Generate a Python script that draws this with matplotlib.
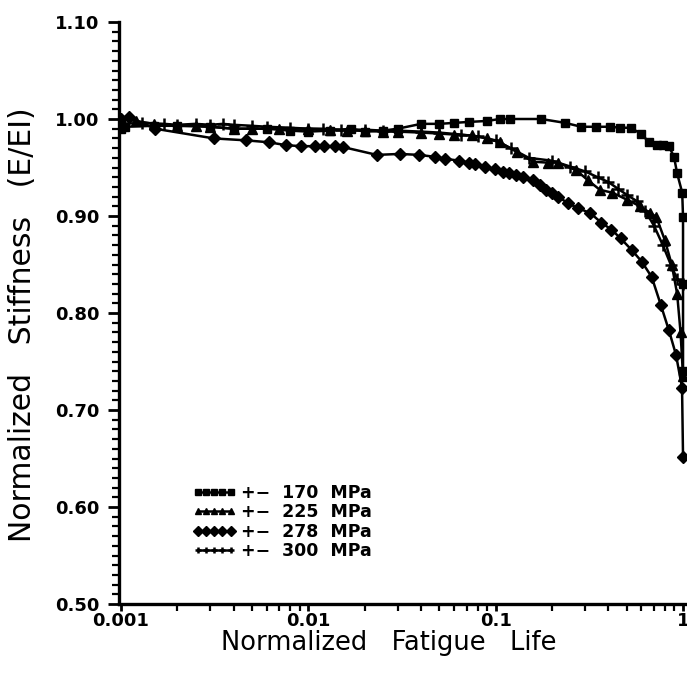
import matplotlib.pyplot as plt
from matplotlib.ticker import FixedLocator, MultipleLocator, FormatStrFormatter
import numpy as np

# stiffness degradation vs normalized fatigue life

life_170 = [0.001, 0.00105, 0.0015, 0.002, 0.003, 0.004, 0.006, 0.008, 0.01, 0.013,
            0.017, 0.02, 0.025, 0.03, 0.04, 0.05, 0.06, 0.072, 0.09, 0.105, 0.119,
            0.175, 0.235, 0.286, 0.345, 0.41, 0.46, 0.525, 0.594, 0.66, 0.724, 0.78,
            0.84, 0.895, 0.93, 0.99, 1.0, 1.0, 1.0]
stiff_170 = [0.99, 0.992, 0.993, 0.993, 0.992, 0.99, 0.99, 0.988, 0.987, 0.988,
             0.99, 0.987, 0.988, 0.99, 0.995, 0.995, 0.996, 0.997, 0.998, 1.0, 1.0,
             1.0, 0.996, 0.992, 0.992, 0.992, 0.991, 0.991, 0.985, 0.976, 0.973, 0.973,
             0.972, 0.961, 0.944, 0.924, 0.899, 0.83, 0.74]

life_225 = [0.001, 0.0012, 0.0015, 0.002, 0.0025, 0.003, 0.004, 0.005, 0.007, 0.01,
            0.013, 0.016, 0.02, 0.025, 0.03, 0.04, 0.05, 0.06, 0.075, 0.09, 0.105,
            0.13, 0.158, 0.19, 0.215, 0.27, 0.31, 0.36, 0.42, 0.5, 0.59, 0.67, 0.72,
            0.8, 0.87, 0.93, 0.97, 1.0]
stiff_225 = [1.0, 0.998, 0.995, 0.993, 0.993, 0.992, 0.99, 0.99, 0.99, 0.99,
             0.989, 0.988, 0.988, 0.987, 0.987, 0.986, 0.985, 0.984, 0.983, 0.98, 0.976,
             0.966, 0.956, 0.955, 0.955, 0.947, 0.937, 0.927, 0.924, 0.917, 0.91, 0.903,
             0.899, 0.875, 0.85, 0.82, 0.78, 0.735]

life_278 = [0.001, 0.0011, 0.00152, 0.00313, 0.00465, 0.00617, 0.00762, 0.00917,
            0.0108, 0.0122, 0.0138, 0.0154, 0.0232, 0.0308, 0.039, 0.0475, 0.0538,
            0.064, 0.072, 0.078, 0.088, 0.099, 0.109, 0.118, 0.128, 0.14, 0.158,
            0.172, 0.186, 0.2, 0.215, 0.244, 0.276, 0.32, 0.367, 0.415, 0.464, 0.532,
            0.602, 0.681, 0.762, 0.841, 0.917, 0.988, 1.0]
stiff_278 = [1.0, 1.002, 0.99, 0.98, 0.978, 0.976, 0.973, 0.972,
             0.972, 0.972, 0.972, 0.971, 0.963, 0.964, 0.963, 0.961, 0.959,
             0.957, 0.955, 0.954, 0.951, 0.948, 0.945, 0.944, 0.942, 0.94, 0.937,
             0.932, 0.927, 0.924, 0.92, 0.913, 0.908, 0.903, 0.893, 0.886, 0.877, 0.865,
             0.853, 0.837, 0.808, 0.782, 0.757, 0.723, 0.652]

life_300 = [0.001, 0.0013, 0.0017, 0.002, 0.0025, 0.003, 0.0035, 0.004, 0.005, 0.006,
            0.008, 0.01, 0.012, 0.015, 0.02, 0.025, 0.03, 0.04, 0.05, 0.065, 0.08,
            0.1, 0.12, 0.15, 0.2, 0.25, 0.3, 0.35, 0.4, 0.45, 0.5, 0.57, 0.63, 0.7,
            0.78, 0.86, 0.93, 1.0]
stiff_300 = [0.995, 0.996, 0.995, 0.994, 0.995, 0.994, 0.995, 0.994, 0.993, 0.992,
             0.991, 0.99, 0.99, 0.989, 0.989, 0.988, 0.988, 0.987, 0.986, 0.984, 0.982,
             0.978, 0.97, 0.96, 0.957, 0.951, 0.946, 0.94, 0.935, 0.928, 0.922, 0.915,
             0.905, 0.89, 0.87, 0.85, 0.835, 0.83]

labels = ['+\u2212  170  MPa', '+\u2212  225  MPa', '+\u2212  278  MPa', '+\u2212  300  MPa']

fig = plt.figure(figsize=(6.87, 6.77), dpi=100)
ax = fig.add_axes([0.1732, 0.1078, 0.8268, 0.8597])

ax.plot(life_170, stiff_170, 'k-', marker='s', ms=6, lw=1.8, label=labels[0])
ax.plot(life_225, stiff_225, 'k-', marker='^', ms=6.5, lw=1.8, label=labels[1])
ax.plot(life_278, stiff_278, 'k-', marker='D', ms=6, lw=1.8, label=labels[2])
ax.plot(life_300, stiff_300, 'k-', marker='+', ms=8, mew=1.8, lw=1.8, label=labels[3])

ax.set_xscale('log')
ax.set_xlim(0.000976, 1.05)
ax.set_ylim(0.5, 1.1)

ax.xaxis.set_major_locator(FixedLocator([0.001, 0.01, 0.1, 1]))
ax.set_xticklabels(['0.001', '0.01', '0.1', '1'])
minors = [m * d for d in [0.001, 0.01, 0.1] for m in range(2, 10)]
ax.xaxis.set_minor_locator(FixedLocator(minors))
ax.yaxis.set_major_locator(MultipleLocator(0.1))
ax.yaxis.set_minor_locator(MultipleLocator(0.01))
ax.yaxis.set_major_formatter(FormatStrFormatter('%.2f'))

for s in ['top', 'right']:
    ax.spines[s].set_visible(False)
for s in ['left', 'bottom']:
    ax.spines[s].set_linewidth(2.4)

ax.tick_params(axis='y', which='major', direction='out', length=8, width=2, pad=6)
ax.tick_params(axis='y', which='minor', direction='out', length=5, width=1.6)
ax.tick_params(axis='x', which='major', direction='out', length=5, width=2, pad=1)
ax.tick_params(axis='x', which='minor', direction='out', length=5, width=1.6)
for t in ax.get_xticklabels() + ax.get_yticklabels():
    t.set_fontweight('bold')
    t.set_fontsize(13)

ax.set_xlabel('Normalized   Fatigue   Life', fontsize=18.5, labelpad=0)
ax.xaxis.set_label_coords(0.475, -0.045)
ax.set_ylabel('Normalized   Stiffness   (E/EI)', fontsize=21.5)
ax.yaxis.set_label_coords(-0.145, 0.48)

leg = ax.legend(loc='upper left', bbox_to_anchor=(0.105, 0.23), frameon=False,
                numpoints=5, handlelength=2.5, handletextpad=0.3, labelspacing=0.08,
                borderpad=0.3, prop={'weight': 'bold', 'size': 12.5})
for h in leg.legend_handles:
    h.set_markersize(5)

fig.savefig('out.png', dpi=100)
